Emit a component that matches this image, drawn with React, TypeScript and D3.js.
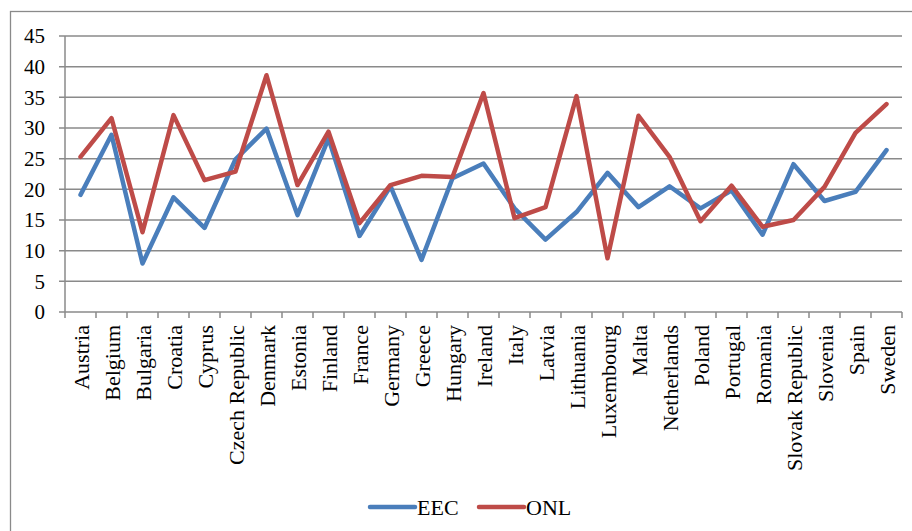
import React from "react";
import * as d3 from "d3";

const countries = [
  "Austria", "Belgium", "Bulgaria", "Croatia", "Cyprus", "Czech Republic", "Denmark",
  "Estonia", "Finland", "France", "Germany", "Greece", "Hungary", "Ireland", "Italy",
  "Latvia", "Lithuania", "Luxembourg", "Malta", "Netherlands", "Poland", "Portugal",
  "Romania", "Slovak Republic", "Slovenia", "Spain", "Sweden",
];

const eec = [
  19.1, 28.9, 7.9, 18.7, 13.7, 24.9, 29.9, 15.8, 28.3, 12.4, 20.5, 8.5, 21.8, 24.2,
  16.9, 11.8, 16.3, 22.7, 17.1, 20.5, 16.9, 19.8, 12.6, 24.1, 18.1, 19.6, 26.4,
];

const onl = [
  25.3, 31.6, 13.0, 32.1, 21.5, 22.9, 38.6, 20.7, 29.4, 14.5, 20.7, 22.2, 22.0, 35.7,
  15.3, 17.1, 35.2, 8.75, 32.0, 25.3, 14.8, 20.6, 13.9, 15.0, 20.4, 29.2, 33.9,
];

const yTicks = [0, 5, 10, 15, 20, 25, 30, 35, 40, 45];

const seriesList = [
  { name: "EEC", values: eec, color: "#4a7ebb" },
  { name: "ONL", values: onl, color: "#be4b48" },
];

const W = 912;
const H = 531;
const left = 65;
const right = 902;
const top = 36;
const bottom = 312;
const grid = "#8a8a8a";
const font = "Liberation Serif, serif";

export default function App() {
  const x = d3.scaleBand<string>().domain(countries).range([left, right]).padding(0);
  const y = d3.scaleLinear().domain([0, 45]).range([bottom, top]);
  const cx = (c: string) => (x(c) as number) + x.bandwidth() / 2;

  const line = d3
    .line<number>()
    .x((_, i) => cx(countries[i]))
    .y((v) => y(v));

  const boundaries = countries.map((c) => x(c) as number).concat([right]);

  return (
    <svg
      width={W}
      height={H}
      style={{ position: "absolute", left: 0, top: 0, background: "#fff", fontFamily: font }}
    >
      <rect x={10.5} y={11.5} width={W + 10} height={H + 10} fill="#fff" stroke={grid} strokeWidth={1.3} />

      {yTicks.map((t) => (
        <g key={t}>
          <line x1={59} x2={t === 0 ? left : right} y1={y(t)} y2={y(t)} stroke={grid} strokeWidth={1.5} />
          <text x={45} y={y(t)} dy="0.35em" textAnchor="end" fontSize={21} fill="#000">
            {t}
          </text>
        </g>
      ))}

      <line x1={left} x2={left} y1={top} y2={bottom} stroke={grid} strokeWidth={1.5} />
      <line x1={left} x2={right} y1={bottom} y2={bottom} stroke={grid} strokeWidth={1.5} />
      {boundaries.map((b, i) => (
        <line key={i} x1={b} x2={b} y1={bottom} y2={bottom + 6} stroke={grid} strokeWidth={1.5} />
      ))}

      {countries.map((c) => (
        <text
          key={c}
          transform={`translate(${cx(c) + 1},${325}) rotate(-90)`}
          textAnchor="end"
          dy="0.33em"
          fontSize={22}
          fill="#000"
        >
          {c}
        </text>
      ))}

      {seriesList.map((s) => (
        <path
          key={s.name}
          d={line(s.values) as string}
          fill="none"
          stroke={s.color}
          strokeWidth={4.5}
          strokeLinejoin="round"
          strokeLinecap="round"
        />
      ))}

      {seriesList.map((s, i) => {
        const lx = 369 + i * 109;
        return (
          <g key={s.name}>
            <line x1={lx + 1} x2={lx + 46} y1={507} y2={507} stroke={s.color} strokeWidth={4.5} strokeLinecap="round" />
            <text x={lx + 48} y={507} dy="0.35em" fontSize={22} fill="#000">
              {s.name}
            </text>
          </g>
        );
      })}
    </svg>
  );
}
